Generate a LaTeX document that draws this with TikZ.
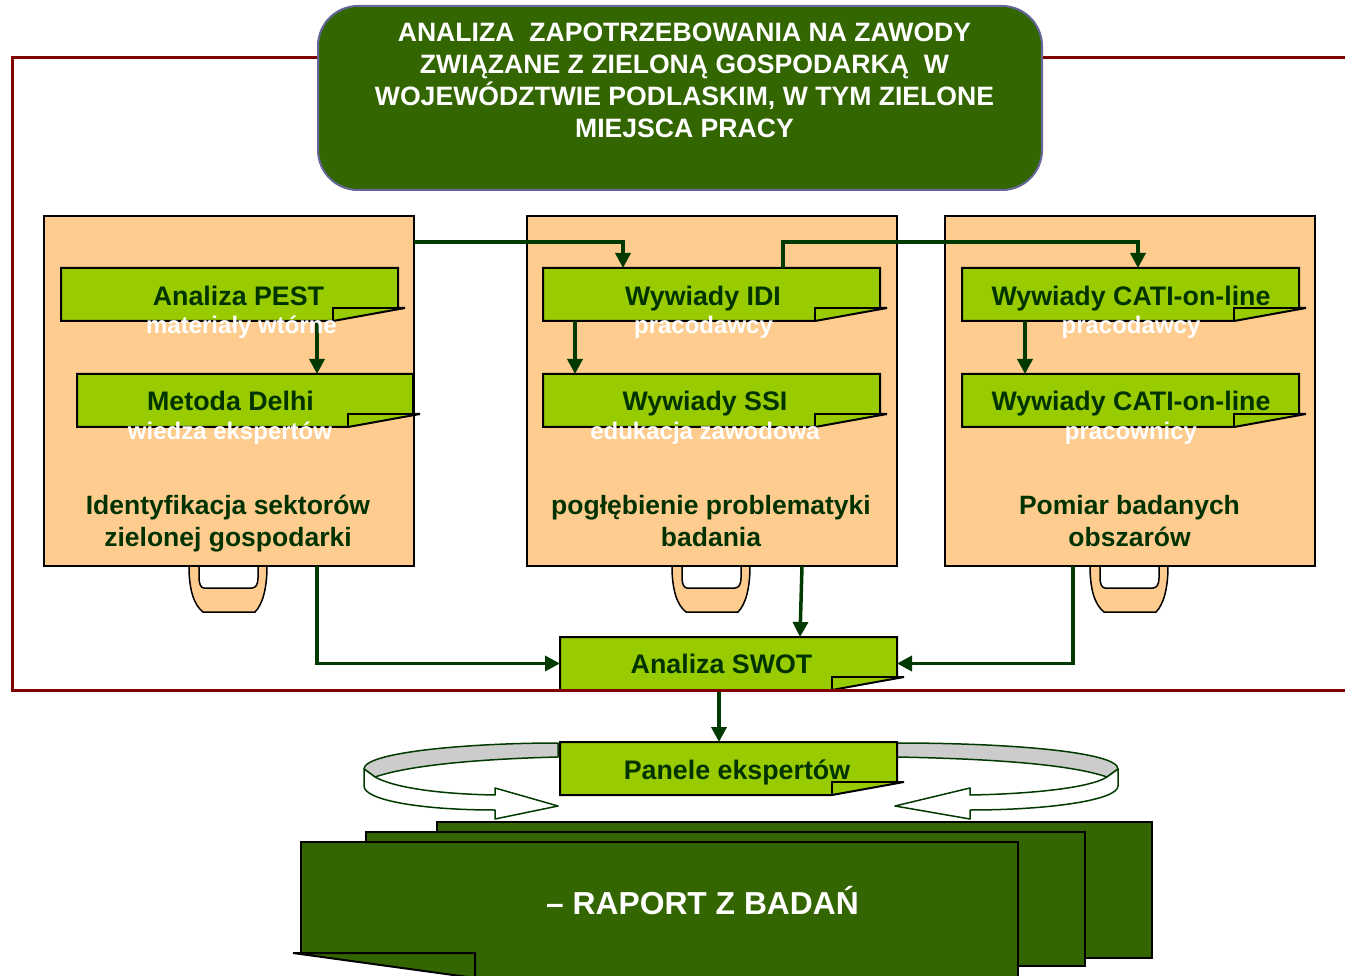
\documentclass[tikz,border=0pt]{standalone}
\usepackage{fontspec}
\setmainfont{Liberation Sans}
\usetikzlibrary{arrows.meta,calc}
\definecolor{frm}{RGB}{128,0,0}
\definecolor{dkg}{RGB}{51,102,0}
\definecolor{lgr}{RGB}{153,204,0}
\definecolor{txg}{RGB}{0,51,0}
\definecolor{org}{RGB}{255,204,144}
\definecolor{tborder}{RGB}{102,102,153}
\definecolor{arrg}{RGB}{0,58,0}
\definecolor{ribbon}{RGB}{204,204,204}
\newcommand\greenbox[5]{%
  \draw[gshape] (#2,#3) -- (#4,#3) -- (#4,{#5-13}) -- ({#4+7},{#5-13}) -- ({#4-65},#5) -- (#2,#5) -- cycle;
  \draw[gfold] ({#4-65},#5) -- ({#4-65},{#5-13}) -- (#4,{#5-13});
  \node[gnode, minimum width={(#4-#2)*1pt}, minimum height={(#5-#3)*1pt}] (#1) at ({(#2+#4)/2},{(#3+#5)/2}) {};
}
\newcommand\baghandle[1]{%
  \draw[handle] ({#1+145},566) .. controls ({#1+145},590) and ({#1+150},605) .. ({#1+159},612)
    -- ({#1+211},612) .. controls ({#1+218},605) and ({#1+223},590) .. ({#1+223},566)
    -- ({#1+214},566) -- ({#1+214},578) .. controls ({#1+214},584) and ({#1+212},588) .. ({#1+208},588)
    -- ({#1+160},588) .. controls ({#1+157},588) and ({#1+155},584) .. ({#1+155},578)
    -- ({#1+155},566) -- cycle;
}
\begin{document}
\begin{tikzpicture}[x=1pt,y=-1pt,
  arr/.style={draw=arrg,line width=3.5pt,-{Triangle[length=15pt,width=15pt]}},
  gshape/.style={fill=lgr,draw=black,line width=2pt,line join=miter},
  gfold/.style={draw=black,line width=2pt},
  gnode/.style={inner sep=0pt,outer sep=0pt},
  gtext/.style={font=\bfseries\fontsize{26.8}{30}\selectfont,text=txg,inner sep=0pt,anchor=base},
  wtext/.style={font=\bfseries\fontsize{24}{28}\selectfont,text=white,inner sep=0pt,anchor=base},
  otext/.style={font=\bfseries\fontsize{26.5}{32}\selectfont,text=txg,inner sep=0pt,align=center},
  obox/.style={fill=org,draw=black,line width=2pt,inner sep=0pt,outer sep=0pt},
  handle/.style={fill=org,draw=black,line width=1.5pt},
  rib/.style={draw=arrg,line width=1.5pt,line join=round},
  dsheet/.style={fill=dkg,draw=black,line width=2pt},
  frame/.style={draw=frm,line width=3pt}
]
\useasboundingbox (0,0) rectangle (1345,976);

% title
\node[fill=dkg,draw=tborder,line width=2pt,rounded corners=40pt,minimum width=724pt,minimum height=184pt,inner sep=0pt] (title) at (680,98) {};
\node[font=\bfseries\fontsize{26.6}{32}\selectfont,text=white,align=center,inner sep=0pt] (titletext) at (684.5,80)
  {ANALIZA\ \ ZAPOTRZEBOWANIA NA ZAWODY\\ZWIĄZANE Z ZIELONĄ GOSPODARKĄ\ \ W\\WOJEWÓDZTWIE PODLASKIM, W TYM ZIELONE\\MIEJSCA PRACY};

% handles
\baghandle{44}
\baghandle{527}
\baghandle{945}

% orange boxes
\node[obox,minimum width=370pt,minimum height=350pt] (box1) at (229,391) {};
\node[obox,minimum width=370pt,minimum height=350pt] (box2) at (712,391) {};
\node[obox,minimum width=370pt,minimum height=350pt] (box3) at (1130,391) {};
\node[otext] (box1t) at (228,524) {Identyfikacja sektorów\\zielonej gospodarki};
\node[otext] (box2t) at (711,521.5) {pogłębienie problematyki\\badania};
\node[otext] (box3t) at (1129.5,521.5) {Pomiar badanych\\obszarów};

% green boxes
\greenbox{pest}{61}{268}{398}{321}
\greenbox{delhi}{77}{374}{413}{427}
\greenbox{idi}{543}{268}{880}{321}
\greenbox{ssi}{543}{374}{880}{427}
\greenbox{cati1}{962}{268}{1299}{321}
\greenbox{cati2}{962}{374}{1299}{427}
\greenbox{swot}{560}{637}{897}{690}

% ribbon around Panele
\draw[rib,fill=ribbon] (558,743) .. controls (470,743) and (364,752) .. (364,769) -- (375,777)
  .. controls (410,765) and (480,759) .. (558,757) -- cycle;
\draw[rib,fill=white] (364,769) -- (364,786) .. controls (364,800) and (420,810) .. (495,810)
  -- (495,819) -- (558,806) -- (495,788) -- (495,795) .. controls (440,794) and (395,788) .. (375,777) -- cycle;
\draw[rib,fill=ribbon] (897,743) .. controls (1010,743) and (1118,752) .. (1118,769) -- (1107,777)
  .. controls (1072,765) and (1000,759) .. (897,757) -- cycle;
\draw[rib,fill=white] (1118,769) -- (1118,786) .. controls (1118,800) and (1050,810) .. (970,810)
  -- (970,819) -- (895,806) -- (970,788) -- (970,795) .. controls (1030,794) and (1090,788) .. (1107,777) -- cycle;
\greenbox{panele}{560}{742}{897}{795}

% report stack
\draw[dsheet] (437,822) -- (1152,822) -- (1152,958) -- (475,958) -- (475,953) -- (437,953) -- cycle;
\draw[dsheet] (366,832) -- (1085,832) -- (1085,966) -- (475,966) -- (475,953) -- (366,953) -- cycle;
\draw[dsheet] (301,842) -- (1018,842) -- (1018,985) -- (475,985) -- (475,953) -- (301,953) -- cycle;
\draw[dsheet] (293,953) -- (475,953) -- (475,978) -- cycle;
\node[font=\bfseries\fontsize{31.8}{36}\selectfont,text=white,inner sep=0pt,anchor=base] (raport) at (702.5,914) {– RAPORT Z BADAŃ};

% green labels
\node[gtext] (pestt) at (238.5,306) {Analiza PEST};
\node[gtext] (delhit) at (230.5,411) {Metoda Delhi};
\node[gtext] (idit) at (703,306) {Wywiady IDI};
\node[gtext] (ssit) at (705,411) {Wywiady SSI};
\node[gtext] (cati1t) at (1131,306) {Wywiady CATI-on-line};
\node[gtext] (cati2t) at (1131,411) {Wywiady CATI-on-line};
\node[gtext] (swott) at (721.5,673.5) {Analiza SWOT};
\node[gtext] (panelet) at (737,779) {Panele ekspertów};

% connectors
\draw[arr] ([yshift=-26pt]box1.north east) -| ([xshift=80pt]idi.north west);
\draw[arr] ([xshift=240pt]idi.north west) -- ++(0,-26) -| ([xshift=176pt]cati1.north west);
\draw[arr] ([xshift=256pt]pest.south west) -- ([xshift=256pt]pest.south west |- delhi.north);
\draw[arr] ([xshift=32pt]idi.south west) -- ([xshift=32pt]idi.south west |- ssi.north);
\draw[arr] ([xshift=63pt]cati1.south west) -- ([xshift=63pt]cati1.south west |- cati2.north);
\draw[arr] ([xshift=273pt]box1.south west) |- (swot.west);
\draw[arr] ([xshift=275pt]box2.south west) -- ([xshift=240pt]swot.north west);
\draw[arr] ([xshift=128pt]box3.south west) |- (swot.east);
\draw[arr] ([xshift=159pt]swot.south west) -- ([xshift=159pt]panele.north west);

% white sub-labels
\node[wtext] (pests) at (241.5,334) {materiały wtórne};
\node[wtext] (delhis) at (230,439) {wiedza ekspertów};
\node[wtext] (idis) at (703.5,334) {pracodawcy};
\node[wtext] (ssis) at (705,439) {edukacja zawodowa};
\node[wtext] (cati1s) at (1131,334) {pracodawcy};
\node[wtext] (cati2s) at (1131,439) {pracownicy};

% red frame
\draw[frame] (title.west |- 0,58) -- (12,58) -- (12,690) -- (1345,690);
\draw[frame] (title.east |- 0,58) -- (1345,58);
\end{tikzpicture}
\end{document}
